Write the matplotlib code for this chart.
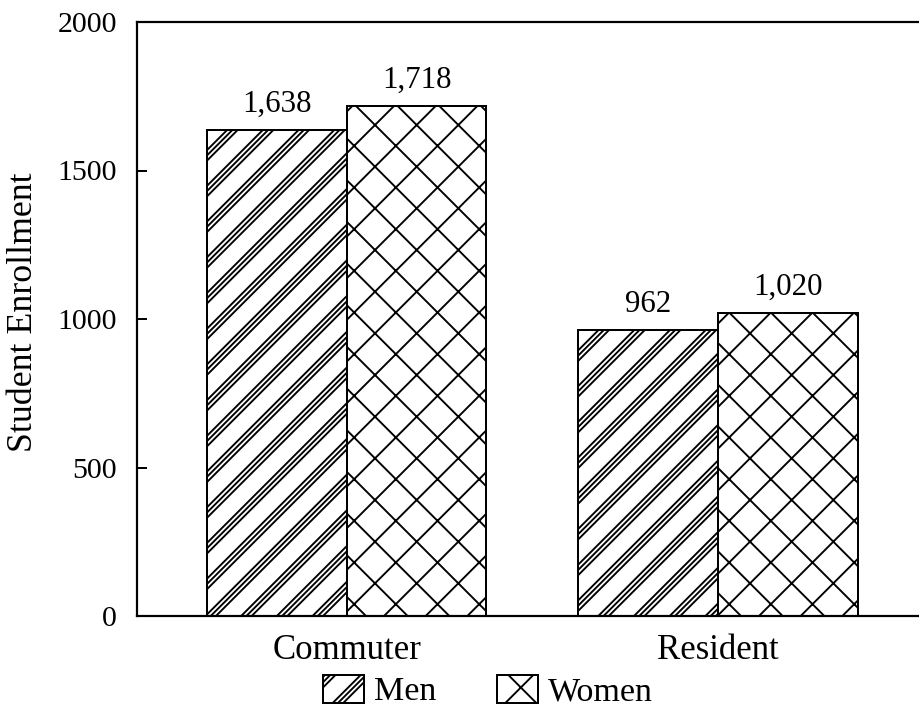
import numpy as np
import matplotlib
matplotlib.use('Agg')
import matplotlib.pyplot as plt
import matplotlib.hatch as mhatch
from matplotlib.path import Path

# Data
categories = ['Commuter', 'Resident']
series_names = ['Men', 'Women']
men = [1638, 962]
women = [1718, 1020]
yticks = [0, 500, 1000, 1500, 2000]

# High dpi so that the hatch tile (one inch) gives the coarse printed crosshatch
DPI = 250
PX = 72.0 / DPI  # one pixel expressed in points


class GroupedNorthEastHatch(mhatch.HatchPatternBase):
    """'/' drawn as bundles of three thin lines, like the printed original."""

    def __init__(self, hatch, density):
        groups = hatch.count('/') * 7
        offsets = []
        for k in range(-groups, groups + 1):
            if groups == 0:
                break
            for d in (0.0, 0.021, 0.042):
                h = k / groups + d
                if -1.0 <= h <= 1.0:
                    offsets.append(h)
        self.offsets = np.array(offsets)
        self.num_vertices = len(offsets) * 2

    def set_vertices_and_codes(self, vertices, codes):
        s = self.offsets / 2.0
        vertices[0::2, 0] = s
        vertices[0::2, 1] = -s
        vertices[1::2, 0] = 1.0 + s
        vertices[1::2, 1] = 1.0 - s
        codes[0::2] = Path.MOVETO
        codes[1::2] = Path.LINETO


class CrossOnlyNorthEastHatch(mhatch.NorthEastHatch):
    # plain '/' is handled by the grouped hatch above, 'x' stays as usual
    def __init__(self, hatch, density):
        super().__init__(hatch.replace('/', ''), density)


i = mhatch._hatch_types.index(mhatch.NorthEastHatch)
mhatch._hatch_types[i] = CrossOnlyNorthEastHatch
mhatch._hatch_types.append(GroupedNorthEastHatch)

plt.rcParams['font.family'] = ['Liberation Serif', 'DejaVu Serif']
plt.rcParams['hatch.linewidth'] = 1.9 * PX
plt.rcParams['hatch.color'] = 'black'

fig = plt.figure(figsize=(919 / DPI, 711 / DPI), dpi=DPI)
ax = fig.add_axes([137 / 919, 95 / 711, 782 / 919, 594 / 711])

x = np.arange(len(categories))
width = 0.376
b1 = ax.bar(x - width / 2, men, width, facecolor='white', edgecolor='black',
            linewidth=2 * PX, hatch='/', label=series_names[0])
b2 = ax.bar(x + width / 2, women, width, facecolor='white', edgecolor='black',
            linewidth=2 * PX, hatch='xx', label=series_names[1])

ax.bar_label(b1, labels=['{:,}'.format(v) for v in men], padding=11 * PX, fontsize=8.9)
ax.bar_label(b2, labels=['{:,}'.format(v) for v in women], padding=11 * PX, fontsize=8.9)

ax.set_xlim(-0.565, 1.541)
ax.set_ylim(0, 2000)
ax.set_yticks(yticks)
ax.set_xticks(x, categories)
ax.tick_params(axis='y', direction='in', length=10 * PX, width=2 * PX,
               pad=20 * PX, labelsize=8.6)
ax.tick_params(axis='x', length=0, pad=18 * PX, labelsize=10)

for side in ['left', 'bottom', 'top']:
    ax.spines[side].set_linewidth(2.2 * PX)
ax.spines['right'].set_visible(False)

ax.set_ylabel('Student Enrollment', fontsize=10.3)
ax.yaxis.set_label_coords((40 - 137) / 782, (616 - 312) / 594)

fig.legend(handles=[b1, b2], labels=series_names, loc='center',
           bbox_to_anchor=(488 / 919, 1 - 691 / 711), ncol=2, frameon=False,
           fontsize=9.8, handlelength=1.2, handleheight=0.9, handletextpad=0.3,
           columnspacing=1.8, borderpad=0, borderaxespad=0)

fig.savefig('out.png', dpi=DPI)
